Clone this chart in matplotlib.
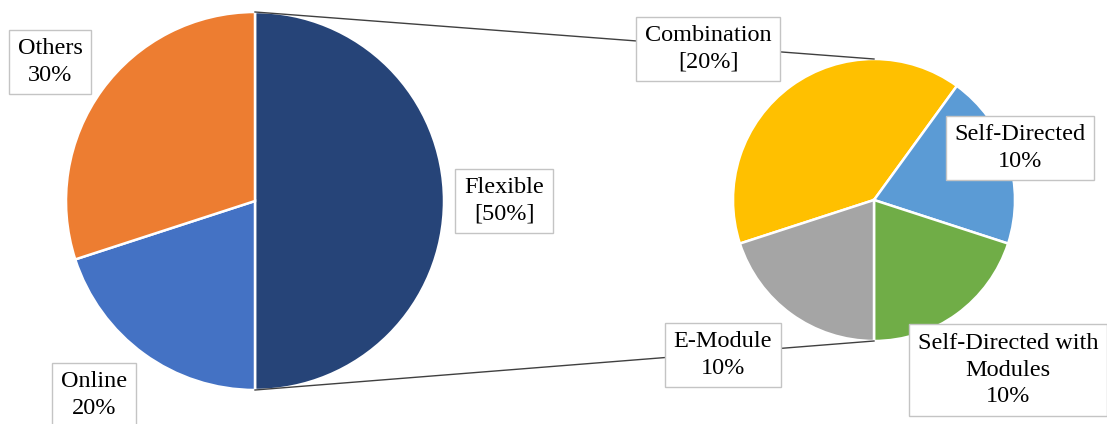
import matplotlib.pyplot as plt

# main pie
main_labels = ['Flexible', 'Online', 'Others']
main_values = [50, 20, 30]
main_colors = ['#264478', '#4472C4', '#ED7D31']

# breakdown of the Flexible slice
sub_labels = ['Combination', 'Self-Directed', 'Self-Directed with\nModules', 'E-Module']
sub_values = [20, 10, 10, 10]
sub_colors = ['#FFC000', '#5B9BD5', '#70AD47', '#A5A5A5']

W, H = 1107, 424
fig = plt.figure(figsize=(W / 100, H / 100), dpi=100)
ax = fig.add_axes([0, 0, 1, 1])

c_main, r_main = (255, 223), 189
c_sub, r_sub = (874, 224), 141

wedge = dict(edgecolor='white', linewidth=1.8)
ax.pie(main_values, colors=main_colors, startangle=90, counterclock=False,
       center=c_main, radius=r_main, wedgeprops=wedge)
ax.pie(sub_values, colors=sub_colors, startangle=198, counterclock=False,
       center=c_sub, radius=r_sub, wedgeprops=wedge)

# connector lines from the split edge of the main pie to the small pie
for s in (1, -1):
    ax.plot([c_main[0], c_sub[0]], [c_main[1] + s * r_main, c_sub[1] + s * r_sub],
            color='#404040', lw=1.0, zorder=1)

box = dict(boxstyle='square,pad=0.36', facecolor='white', edgecolor='#C4C4C4', lw=1.0)
font = dict(family='Liberation Serif', fontsize=17.5, ha='center', va='center',
            linespacing=1.33, bbox=box, zorder=5)

def pct(v, total, brackets=False):
    s = '%d%%' % round(100 * v / total)
    return '[%s]' % s if brackets else s

tot = sum(main_values)
main_pos = [(504, 223), (94, 29), (50, 362)]
for lab, v, (x, y) in zip(main_labels, main_values, main_pos):
    ax.text(x, y, lab + '\n' + pct(v, tot, lab == 'Flexible'), **font)

sub_pos = [(708, 375), (1020, 276), (1008, 54), (723, 69)]
for lab, v, (x, y) in zip(sub_labels, sub_values, sub_pos):
    ax.text(x, y, lab + '\n' + pct(v, tot, lab == 'Combination'), **font)

ax.set_xlim(0, W)
ax.set_ylim(0, H)
ax.axis('off')
fig.savefig('out.png', dpi=100)
